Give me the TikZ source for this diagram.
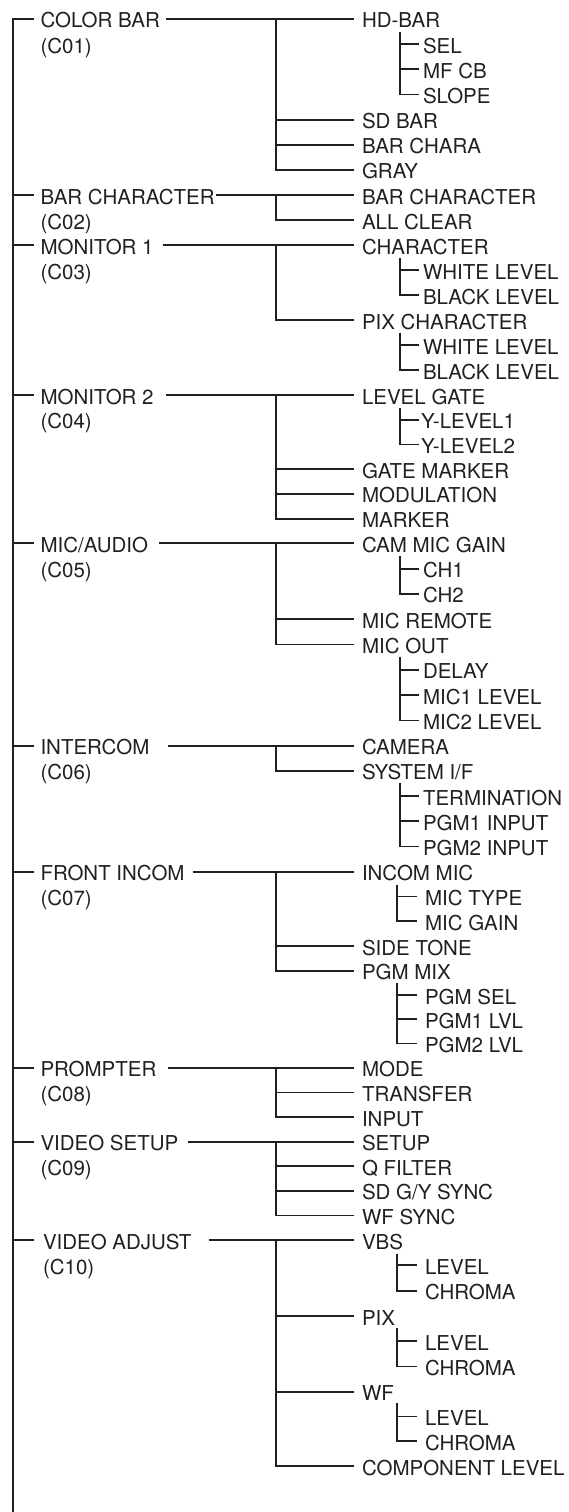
\documentclass[tikz,border=0pt]{standalone}
\usepackage{fontspec}
\setmainfont{TeX Gyre Heros}
\definecolor{ink}{HTML}{231F20}
\tikzset{
  lab/.style={inner sep=0pt, outer sep=0pt, anchor=west, text height=18pt, text depth=0pt,
              font=\fontsize{20.5}{24}\selectfont, text=ink},
  ln/.style={draw=ink, line width=1.8pt},
  tk/.style={ln, shorten >=8pt},
  tkt/.style={ln, shorten >=4pt},
  tkg/.style={ln, shorten >=8pt},
  tko/.style={ln, shorten >=6.5pt},
}
\begin{document}
\begin{tikzpicture}[x=1pt,y=-1pt]
\useasboundingbox (0,0) rectangle (568,1512);
\coordinate (mv) at (13,1512);
\coordinate (vb) at (276,0);
\coordinate (vc) at (400,0);
\coordinate (vg) at (397,0);

% ---------- level 1 ----------
\node[lab] (cb)  at (40.5,19)     {COLOR BAR};
\node[lab] (cbc) at (40.5,44.1)   {(C01)};
\node[lab] (bc)  at (40.5,195)    {BAR CHARACTER};
\node[lab] (bcc) at (40.5,220)    {(C02)};
\node[lab] (ma)  at (40.5,245)    {MONITOR 1};
\node[lab] (mac) at (40.5,270)    {(C03)};
\node[lab] (mb)  at (40.5,395)    {MONITOR 2};
\node[lab] (mbc) at (40.5,419.7)  {(C04)};
\node[lab] (mic) at (40.5,543.3)  {MIC/AUDIO};
\node[lab] (micc) at (40.5,568.6) {(C05)};
\node[lab] (ic)  at (40.5,745.7)  {INTERCOM};
\node[lab] (icc) at (40.5,770.9)  {(C06)};
\node[lab] (fi)  at (40.5,871.7)  {FRONT INCOM};
\node[lab] (fic) at (40.5,896.5)  {(C07)};
\node[lab] (pr)  at (40.5,1067.7) {PROMPTER};
\node[lab] (prc) at (40.5,1092.4) {(C08)};
\node[lab] (vs)  at (40.5,1141.7) {VIDEO SETUP};
\node[lab] (vsc) at (40.5,1166.3) {(C09)};
\node[lab] (va)  at (43,1240)     {VIDEO ADJUST};
\node[lab] (vac) at (43,1265.3)   {(C10)};

\draw[ln, shorten <=6.5pt] (cb.west) -| (mv);
\foreach \n in {bc,ma,mb,mic,ic,fi,pr,vs} \draw[tko] (\n.west -| mv) -- (\n.west);
\draw[ln, shorten >=9pt] (va.west -| mv) -- (va.west);

% ---------- group C01 ----------
\node[lab] (hd)   at (362,19)    {HD-BAR};
\node[lab] (sel)  at (423,44.1)  {SEL};
\node[lab] (mfcb) at (423,69.3)  {MF CB};
\node[lab] (slp)  at (423,94.4)  {SLOPE};
\node[lab] (sdb)  at (362,119.6) {SD BAR};
\node[lab] (bch)  at (362,144.7) {BAR CHARA};
\node[lab] (gry)  at (362,169.9) {GRAY};
\draw[ln, shorten <=5.8pt, shorten >=8pt] (cb.east) -- (hd.west);
\draw[tk] (hd.west -| vb) |- (gry.west);
\draw[tk] (sdb.west -| vb) -- (sdb.west);
\draw[tk] (bch.west -| vb) -- (bch.west);
\draw[tkt] (hd.west -| vc) ++(0,13) |- (slp.west);
\draw[tkt] (sel.west -| vc) -- (sel.west);
\draw[tkt] (mfcb.west -| vc) -- (mfcb.west);

% ---------- group C02 ----------
\node[lab] (bcb) at (362,195) {BAR CHARACTER};
\node[lab] (alc) at (362,220) {ALL CLEAR};
\draw[ln, shorten <=1.8pt, shorten >=8pt] (bc.east) -- (bcb.west);
\draw[tk] (bcb.west -| vb) |- (alc.west);

% ---------- group C03 ----------
\node[lab] (chr)  at (362,245) {CHARACTER};
\node[lab] (wla)  at (423,270) {WHITE LEVEL};
\node[lab] (bla)  at (423,295) {BLACK LEVEL};
\node[lab] (pchr) at (362,320) {PIX CHARACTER};
\node[lab] (wlb)  at (423,345) {WHITE LEVEL};
\node[lab] (blb)  at (423,370) {BLACK LEVEL};
\draw[ln, shorten <=9pt, shorten >=8pt] (ma.east) -- (chr.west);
\draw[tk] (chr.west -| vb) |- (pchr.west);
\draw[tkt] (chr.west -| vc) ++(0,12.5) |- (bla.west);
\draw[tkt] (wla.west -| vc) -- (wla.west);
\draw[tkt] (pchr.west -| vc) ++(0,12.5) |- (blb.west);
\draw[tkt] (wlb.west -| vc) -- (wlb.west);

% ---------- group C04 ----------
\node[lab] (lg)  at (362,395)   {LEVEL GATE};
\node[lab] (yla) at (421,419.7) {Y-LEVEL1};
\node[lab] (ylb) at (421,444.4) {Y-LEVEL2};
\node[lab] (gm)  at (362,469.2) {GATE MARKER};
\node[lab] (mod) at (362,493.9) {MODULATION};
\node[lab] (mrk) at (362,518.6) {MARKER};
\draw[ln, shorten <=12.7pt, shorten >=8pt] (mb.east) -- (lg.west);
\draw[tk] (lg.west -| vb) |- (mrk.west);
\draw[tk] (gm.west -| vb) -- (gm.west);
\draw[tk] (mod.west -| vb) -- (mod.west);
\draw[ln, shorten >=2pt] (lg.west -| vc) ++(0,13) |- (ylb.west);
\draw[ln, shorten >=2pt] (yla.west -| vc) -- (yla.west);

% ---------- group C05 ----------
\node[lab] (cmg) at (362,543.3) {CAM MIC GAIN};
\node[lab] (cha) at (423,568.6) {CH1};
\node[lab] (chb) at (423,593.9) {CH2};
\node[lab] (mrm) at (362,619.2) {MIC REMOTE};
\node[lab] (mo)  at (362,644.5) {MIC OUT};
\node[lab] (dly) at (423,669.8) {DELAY};
\node[lab] (mla) at (423,695.1) {MIC1 LEVEL};
\node[lab] (mlb) at (423,720.4) {MIC2 LEVEL};
\draw[ln, shorten <=10.8pt, shorten >=8pt] (mic.east) -- (cmg.west);
\draw[tk] (cmg.west -| vb) |- (mo.west);
\draw[tk] (mrm.west -| vb) -- (mrm.west);
\draw[tkt] (cmg.west -| vc) ++(0,13) |- (chb.west);
\draw[tkt] (cha.west -| vc) -- (cha.west);
\draw[tkt] (mo.west -| vc) ++(0,12) |- (mlb.west);
\draw[tkt] (dly.west -| vc) -- (dly.west);
\draw[tkt] (mla.west -| vc) -- (mla.west);

% ---------- group C06 ----------
\node[lab] (cam) at (362,745.7) {CAMERA};
\node[lab] (sif) at (362,770.9) {SYSTEM I/F};
\node[lab] (ter) at (423,796.1) {TERMINATION};
\node[lab] (pia) at (423,821.3) {PGM1 INPUT};
\node[lab] (pib) at (423,846.5) {PGM2 INPUT};
\draw[ln, shorten <=19pt, shorten >=8pt] (ic.east) -- (cam.west);
\draw[tk] (cam.west -| vb) |- (sif.west);
\draw[tkt] (sif.west -| vc) ++(0,12) |- (pib.west);
\draw[tkt] (ter.west -| vc) -- (ter.west);
\draw[tkt] (pia.west -| vc) -- (pia.west);

% ---------- group C07 ----------
\node[lab] (imic) at (362,871.7) {INCOM MIC};
\node[lab] (mty)  at (425,896.5) {MIC TYPE};
\node[lab] (mgn)  at (425,921.2) {MIC GAIN};
\node[lab] (stn)  at (362,946)   {SIDE TONE};
\node[lab] (pmx)  at (362,970.7) {PGM MIX};
\node[lab] (psl)  at (425,995)   {PGM SEL};
\node[lab] (pla)  at (425,1019.2) {PGM1 LVL};
\node[lab] (plb)  at (425,1043.5) {PGM2 LVL};
\draw[ln, shorten <=8pt, shorten >=8pt] (fi.east) -- (imic.west);
\draw[tk] (imic.west -| vb) |- (pmx.west);
\draw[tk] (stn.west -| vb) -- (stn.west);
\draw[tkg] (imic.west -| vg) ++(0,13) |- (mgn.west);
\draw[tkg] (mty.west -| vg) -- (mty.west);
\draw[tkg] (pmx.west -| vg) ++(0,12.5) |- (plb.west);
\draw[tkg] (psl.west -| vg) -- (psl.west);
\draw[tkg] (pla.west -| vg) -- (pla.west);

% ---------- group C08 ----------
\node[lab] (mde) at (362,1067.7) {MODE};
\node[lab] (trf) at (362,1092.4) {TRANSFER};
\node[lab] (inp) at (362,1117)   {INPUT};
\draw[ln, shorten <=12pt, shorten >=8pt] (pr.east) -- (mde.west);
\draw[tk] (mde.west -| vb) |- (inp.west);
\draw[tk] (trf.west -| vb) -- (trf.west);

% ---------- group C09 ----------
\node[lab] (stp) at (362,1141.7) {SETUP};
\node[lab] (qf)  at (362,1166.3) {Q FILTER};
\node[lab] (sdg) at (362,1190.9) {SD G/Y SYNC};
\node[lab] (wfs) at (362,1215.4) {WF SYNC};
\draw[ln, shorten <=9.8pt, shorten >=8pt] (vs.east) -- (stp.west);
\draw[tk] (stp.west -| vb) |- (wfs.west);
\draw[tk] (qf.west -| vb) -- (qf.west);
\draw[tk] (sdg.west -| vb) -- (sdg.west);

% ---------- group C10 ----------
\node[lab] (vbs) at (362,1240)   {VBS};
\node[lab] (lva) at (425,1265.3) {LEVEL};
\node[lab] (cra) at (425,1290.7) {CHROMA};
\node[lab] (pix) at (362,1316)   {PIX};
\node[lab] (lvb) at (425,1341.2) {LEVEL};
\node[lab] (crb) at (425,1366.5) {CHROMA};
\node[lab] (wf)  at (362,1391.7) {WF};
\node[lab] (lvc) at (425,1416.5) {LEVEL};
\node[lab] (crc) at (425,1441.2) {CHROMA};
\node[lab] (cpl) at (362,1466)   {COMPONENT LEVEL};
\draw[ln, shorten <=17pt, shorten >=8pt] (va.east) -- (vbs.west);
\draw[tk] (vbs.west -| vb) |- (cpl.west);
\draw[tk] (pix.west -| vb) -- (pix.west);
\draw[tk] (wf.west -| vb) -- (wf.west);
\draw[tkg] (vbs.west -| vg) ++(0,14) |- (cra.west);
\draw[tkg] (lva.west -| vg) -- (lva.west);
\draw[tkg] (pix.west -| vg) ++(0,11.5) |- (crb.west);
\draw[tkg] (lvb.west -| vg) -- (lvb.west);
\draw[tkg] (wf.west -| vg) ++(0,11.5) |- (crc.west);
\draw[tkg] (lvc.west -| vg) -- (lvc.west);
\end{tikzpicture}
\end{document}
